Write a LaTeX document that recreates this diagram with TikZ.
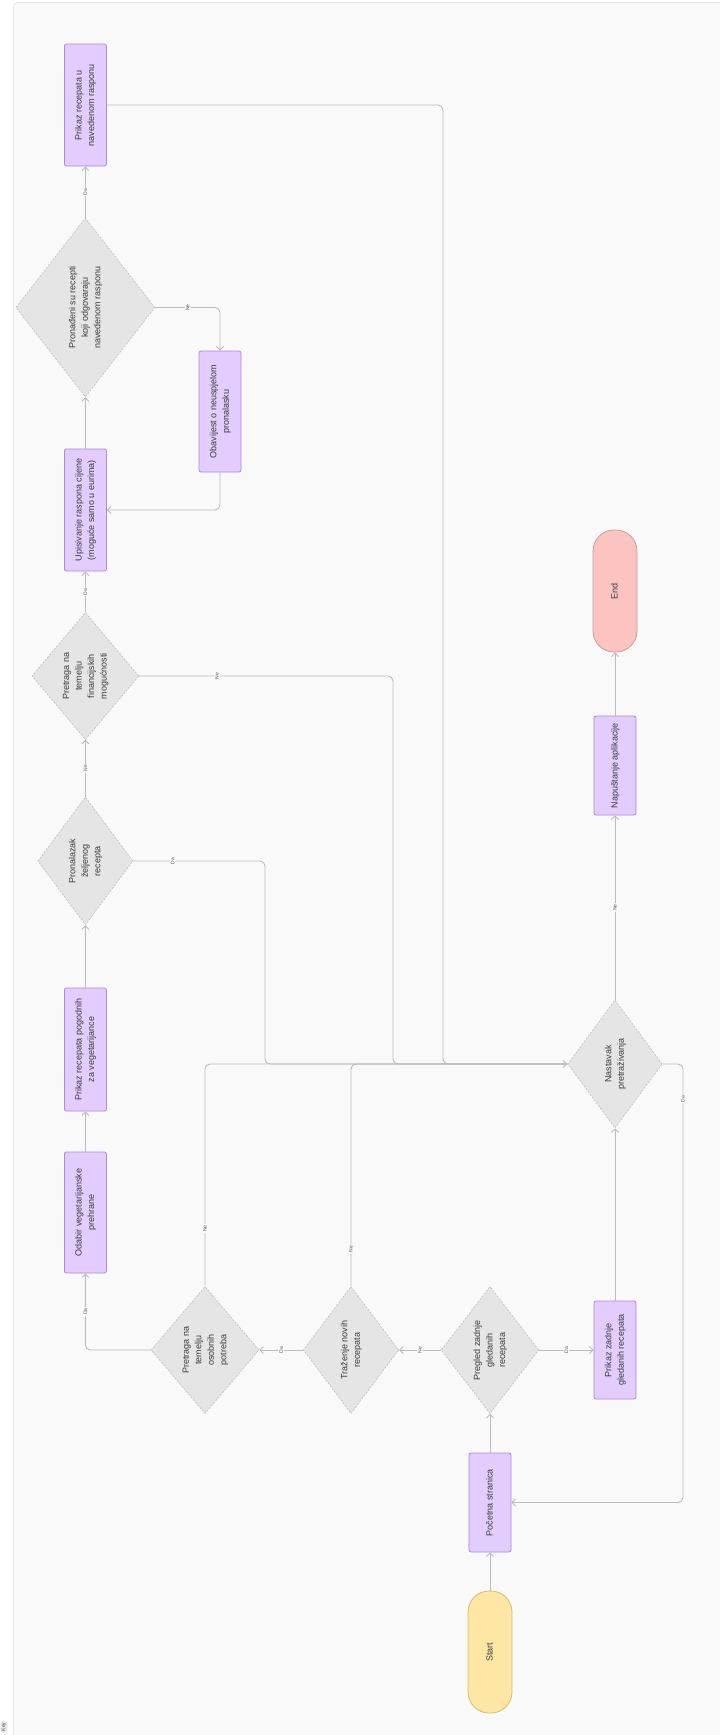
\documentclass[tikz,border=0pt]{standalone}
\usepackage{fontspec}
\setmainfont{Liberation Sans}
\usepackage{graphicx}
\usetikzlibrary{shapes.geometric,arrows.meta}
\definecolor{panelbg}{HTML}{F9F9F9}
\definecolor{panelline}{HTML}{E6E6E6}
\definecolor{boxfill}{HTML}{E2CDFE}
\definecolor{boxdraw}{HTML}{A98BD9}
\definecolor{decfill}{HTML}{E5E5E5}
\definecolor{decdraw}{HTML}{BDBDBD}
\definecolor{startfill}{HTML}{FEE7A5}
\definecolor{startdraw}{HTML}{D6BC72}
\definecolor{endfill}{HTML}{FCC4C0}
\definecolor{enddraw}{HTML}{C99C99}
\definecolor{conn}{HTML}{BBBBBB}
\definecolor{txt}{HTML}{3A3A3A}
\definecolor{labtxt}{HTML}{555555}
\newcommand{\vtext}[1]{\rotatebox{90}{\begin{tabular}{@{}c@{}}#1\end{tabular}}}
\tikzset{
  every node/.style={font=\fontsize{9}{12.5}\selectfont, text=txt},
  proc/.style={draw=boxdraw, fill=boxfill, line width=0.8pt, rounded corners=2pt,
    minimum width=42pt, inner sep=0pt},
  dec/.style={diamond, draw=decdraw, fill=decfill, line width=0.6pt,
    dash pattern=on 2pt off 1.5pt, inner sep=0pt},
  term/.style={line width=0.8pt, rounded corners=21pt, minimum width=44pt, minimum height=122pt, inner sep=0pt},
  conline/.style={draw=conn, line width=0.9pt, rounded corners=5pt},
  arr/.style={conline, -{Straight Barb[length=3.5pt,width=7pt]}},
  lab/.style={font=\fontsize{5}{6}\selectfont, text=labtxt, fill=panelbg, inner sep=1.2pt, rotate=90},
}
\begin{document}
\begin{tikzpicture}[x=1pt,y=-1pt]
\clip (0,0) rectangle (720,1735);
\fill[white] (0,0) rectangle (720,1735);
\path[fill=panelbg, draw=panelline, line width=0.8pt, rounded corners=4pt] (13.5,2.5) rectangle (760,1780);
% key label
\node[draw=panelline, fill=decfill, rounded corners=1.5pt, inner sep=1pt, font=\fontsize{5}{6}\selectfont, text=labtxt] (key) at (4,1727) {\rotatebox{90}{Key}};

% column A
\node[proc, minimum height=122pt] (pru) at (85.4,105) {\vtext{Prikaz recepata u\\navedenom rasponu}};
\node[dec, minimum width=139pt, minimum height=179pt] (pron) at (85.4,307.5) {\vtext{Pronađeni su recepti\\koji odgovaraju\\navedenom rasponu}};
\node[proc, minimum height=122pt] (upis) at (85.4,510) {\vtext{Upisivanje raspona cijene\\(moguće samo u eurima)}};
\node[proc, minimum height=121pt] (obav) at (220,411.5) {\vtext{Obavijest o neuspjelom\\pronalasku}};
\node[dec, minimum width=107pt, minimum height=127pt] (fin) at (85.4,676) {\vtext{Pretraga na\\temelju\\financijskih\\mogućnosti}};
\node[dec, minimum width=95pt, minimum height=128pt] (nal) at (85.4,861) {\vtext{Pronalazak\\željenog\\recepta}};
\node[proc, minimum height=123pt] (pog) at (85.4,1049.5) {\vtext{Prikaz recepata pogodnih\\za vegetarijance}};
\node[proc, minimum height=121pt] (oda) at (85.4,1212.5) {\vtext{Odabir vegetarijanske\\prehrane}};

% bottom row
\node[dec, minimum width=108pt, minimum height=127pt] (oso) at (205,1350) {\vtext{Pretraga na\\temelju\\osobnih\\potreba}};
\node[dec, minimum width=95.5pt, minimum height=127pt] (tra) at (351,1350) {\vtext{Traženje novih\\recepata}};
\node[dec, minimum width=95pt, minimum height=127pt] (pre) at (490,1350) {\vtext{Pregled zadnje\\gledanih\\recepata}};
\node[proc, minimum height=98pt] (pzg) at (615,1350) {\vtext{Prikaz zadnje\\gledanih recepata}};
\node[proc, minimum height=99pt] (poc) at (490,1502.5) {\vtext{Početna stranica}};
\node[term, fill=startfill, draw=startdraw] (start) at (490,1652) {\vtext{Start}};

% right column
\node[dec, minimum width=94.5pt, minimum height=128pt] (nas) at (615,1064) {\vtext{Nastavak\\pretraživanja}};
\node[proc, minimum height=99pt] (nap) at (615,765.5) {\vtext{Napuštanje aplikacije}};
\node[term, fill=endfill, draw=enddraw] (end) at (615,591) {\vtext{End}};

% helper coordinates
\coordinate (m1) at (265,1064);
\coordinate (m2) at (393,1064);
\coordinate (m3) at (443,1064);
\coordinate (r1) at (683,1502.5);

% connectors
\draw[arr] (start) -- (poc);
\draw[arr] (poc) -- (pre);
\draw[arr] (pre.east) -- node[lab]{Da} (pzg.west);
\draw[arr] (pre.west) -- node[lab]{Ne} (tra.east);
\draw[arr] (tra.west) -- node[lab]{Da} (oso.east);
\draw[arr] (oso.west) -| node[lab, pos=0.75]{Da} (oda.south);
\draw[arr] (oda) -- (pog);
\draw[arr] (pog.north) -- (nal.south);
\draw[arr] (nal.north) -- node[lab]{Ne} (fin.south);
\draw[arr] (fin.north) -- node[lab]{Da} (upis.south);
\draw[arr] (upis.north) -- (pron.south);
\draw[arr] (pron.north) -- node[lab]{Da} (pru.south);
\draw[arr] (pron.east) -| node[lab, pos=0.25]{Ne} (obav.north);
\draw[arr] (obav.south) |- (upis.east);
\draw[conline] (pru.east) -| (m3) -- (nas.west);
\draw[conline] (nal.east) -| node[lab, pos=0.15]{Da} (m1) -- (nas.west);
\draw[conline] (fin.east) -| node[lab, pos=0.153]{Ne} (m2) -- (nas.west);
\draw[conline] (tra.north) |- node[lab, pos=0.084]{Ne} (nas.west);
\draw[arr] (oso.north) |- node[lab, pos=0.13]{Ne} (nas.west);
\draw[arr] (pzg.north) -- (nas.south);
\draw[arr] (nas.north) -- node[lab]{Ne} (nap.south);
\draw[arr] (nap.north) -- (end.south);
\draw[arr] (nas.east) -| node[lab, pos=0.54]{Da} (r1) -- (poc.east);
\end{tikzpicture}
\end{document}
